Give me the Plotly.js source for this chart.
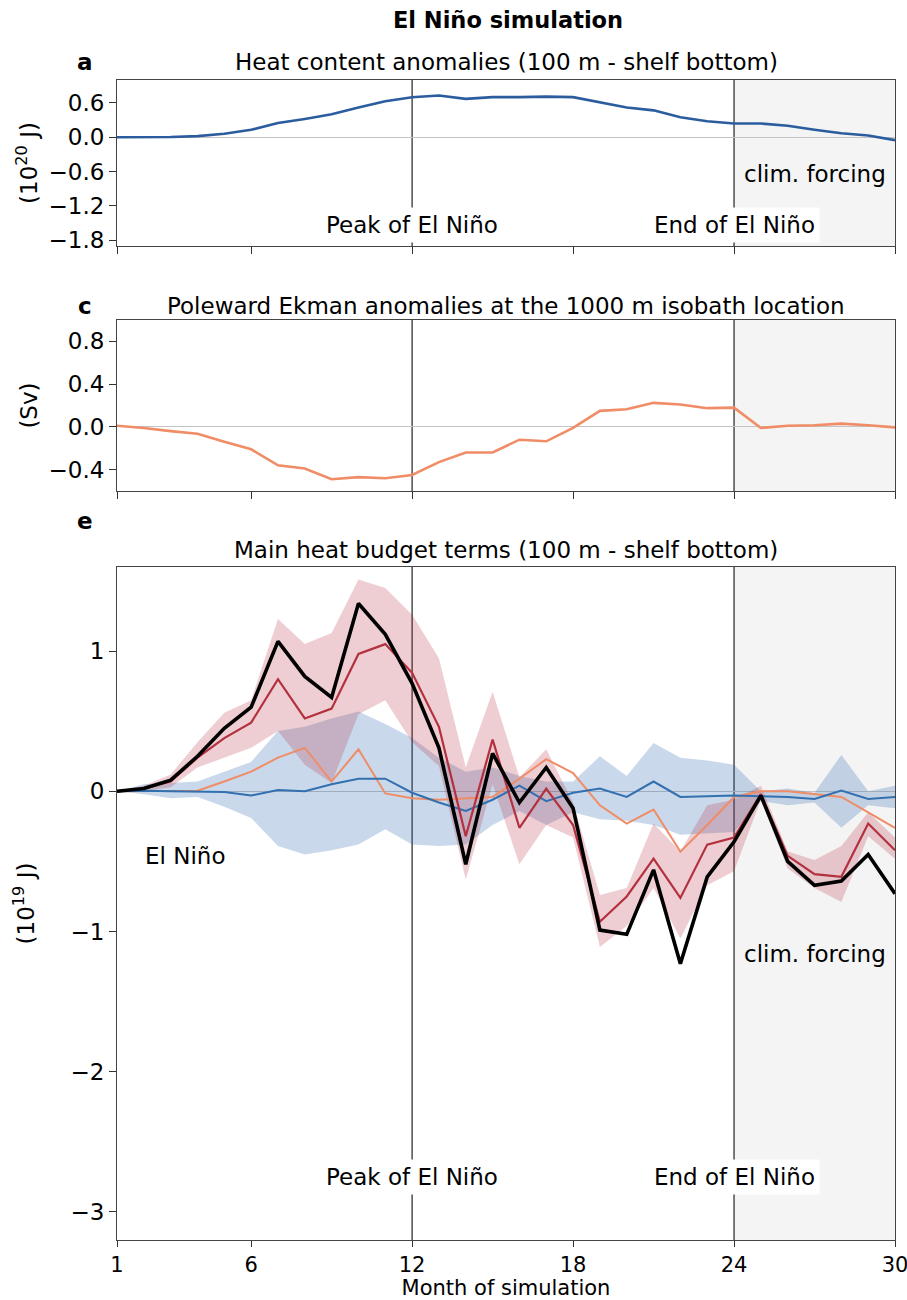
<!DOCTYPE html>
<html>
<head>
<meta charset="utf-8">
<script src="https://cdn.plot.ly/plotly-3.0.1.min.js"></script>
<style>html,body{margin:0;padding:0;background:#fff;}#chart{width:907px;height:1300px;}</style>
</head>
<body>
<div id="chart"></div>
<script>
// ---------- data ----------
const months = [1,2,3,4,5,6,7,8,9,10,11,12,13,14,15,16,17,18,19,20,21,22,23,24,25,26,27,28,29,30];
const monthTicks = [1,6,12,18,24,30];

// panel a: heat content anomalies (10^20 J)
const heatContent = [0.0,0.0,0.005,0.02,0.06,0.13,0.25,0.32,0.40,0.52,0.63,0.70,0.73,0.67,0.70,0.70,0.71,0.70,0.61,0.52,0.47,0.35,0.28,0.24,0.24,0.20,0.13,0.07,0.03,-0.05];

// panel c: poleward Ekman anomalies (Sv)
const ekman = [0.01,-0.01,-0.04,-0.065,-0.14,-0.21,-0.36,-0.39,-0.49,-0.47,-0.48,-0.45,-0.33,-0.24,-0.24,-0.12,-0.135,-0.01,0.15,0.165,0.225,0.21,0.175,0.18,-0.01,0.01,0.015,0.03,0.015,-0.005];

// panel e: main heat budget terms (10^19 J)
const totalTerm = [0,0.02,0.08,0.25,0.45,0.60,1.07,0.82,0.67,1.34,1.12,0.77,0.31,-0.52,0.27,-0.08,0.17,-0.12,-0.99,-1.02,-0.56,-1.23,-0.61,-0.36,-0.03,-0.50,-0.67,-0.64,-0.45,-0.73];
const redTerm = [0,0.02,0.07,0.24,0.38,0.49,0.80,0.52,0.59,0.98,1.05,0.845,0.46,-0.32,0.37,-0.26,0.02,-0.24,-0.93,-0.75,-0.48,-0.76,-0.38,-0.33,-0.02,-0.46,-0.59,-0.61,-0.23,-0.42];
const redUpper = [0,0.04,0.12,0.35,0.56,0.65,1.23,1.05,1.13,1.51,1.45,1.26,0.95,0.17,0.71,0.10,0.30,-0.08,-0.74,-0.69,-0.23,-0.43,-0.10,-0.06,0.04,-0.43,-0.49,-0.39,-0.15,-0.33];
const redLower = [0,0.0,0.03,0.17,0.24,0.31,0.43,0.19,0.06,0.55,0.65,0.35,0.18,-0.63,0.05,-0.52,-0.24,-0.33,-1.11,-0.96,-0.69,-1.05,-0.67,-0.57,-0.06,-0.55,-0.69,-0.79,-0.32,-0.48];
const orangeTerm = [0,0,0,0.005,0.07,0.14,0.24,0.31,0.07,0.30,-0.015,-0.05,-0.06,-0.05,-0.04,0.09,0.23,0.13,-0.10,-0.23,-0.13,-0.43,-0.24,-0.04,0,0,-0.02,-0.04,-0.15,-0.26];
const blueTerm = [0,0.005,0,0,-0.005,-0.03,0.01,0,0.05,0.09,0.09,-0.01,-0.08,-0.14,-0.06,0.04,-0.07,-0.01,0.02,-0.04,0.07,-0.04,-0.035,-0.03,-0.035,-0.04,-0.055,0.005,-0.055,-0.04];
const blueUpper = [0,0.05,0.06,0.07,0.14,0.21,0.43,0.46,0.52,0.57,0.48,0.38,0.24,0.14,0.17,0.11,0.07,0.07,0.25,0.11,0.345,0.24,0.22,0.19,0.0,0.02,-0.01,0.26,0.0,0.04];
const blueLower = [0,-0.02,-0.05,-0.04,-0.11,-0.19,-0.39,-0.45,-0.42,-0.38,-0.27,-0.38,-0.39,-0.38,-0.24,-0.14,-0.24,-0.15,-0.20,-0.21,-0.24,-0.31,-0.30,-0.29,-0.07,-0.10,-0.08,-0.26,-0.10,-0.12];

// tick labels
const aTickVals = [0.6,0.0,-0.6,-1.2,-1.8];
const aTickText = ["0.6","0.0","\u22120.6","\u22121.2","\u22121.8"];
const cTickVals = [0.8,0.4,0.0,-0.4];
const cTickText = ["0.8","0.4","0.0","\u22120.4"];
const eTickVals = [1,0,-1,-2,-3];
const eTickText = ["1","0","\u22121","\u22122","\u22123"];

// ---------- chart ----------
const FONT = "DejaVu Sans";
const FS = 23;
const rev = a => a.slice().reverse();
const band = (hi, lo) => ({x: months.concat(rev(months)), y: hi.concat(rev(lo))});

const blueBand = band(blueUpper, blueLower);
const redBand = band(redUpper, redLower);

const traces = [
  {x: months, y: heatContent, xaxis: 'x', yaxis: 'y', mode: 'lines', line: {color: '#2b5d9e', width: 2.6}, hoverinfo: 'skip'},
  {x: months, y: ekman, xaxis: 'x2', yaxis: 'y2', mode: 'lines', line: {color: '#f08c66', width: 2.6}, hoverinfo: 'skip'},
  {x: blueBand.x, y: blueBand.y, xaxis: 'x3', yaxis: 'y3', mode: 'lines', fill: 'toself', fillcolor: 'rgba(40,105,175,0.25)', line: {width: 0}, hoverinfo: 'skip'},
  {x: redBand.x, y: redBand.y, xaxis: 'x3', yaxis: 'y3', mode: 'lines', fill: 'toself', fillcolor: 'rgba(178,34,52,0.22)', line: {width: 0}, hoverinfo: 'skip'},
  {x: months, y: orangeTerm, xaxis: 'x3', yaxis: 'y3', mode: 'lines', line: {color: '#f08c66', width: 2}, hoverinfo: 'skip'},
  {x: months, y: blueTerm, xaxis: 'x3', yaxis: 'y3', mode: 'lines', line: {color: '#3370b0', width: 2}, hoverinfo: 'skip'},
  {x: months, y: redTerm, xaxis: 'x3', yaxis: 'y3', mode: 'lines', line: {color: '#b3303e', width: 2.2}, hoverinfo: 'skip'},
  {x: months, y: totalTerm, xaxis: 'x3', yaxis: 'y3', mode: 'lines', line: {color: '#000000', width: 3.6}, hoverinfo: 'skip'}
];

const W = 907, H = 1300, ML = 117, MR = 12, MT = 80, MB = 60;
const plotH = H - MT - MB;
const py = p => 1 - (p - MT) / plotH;   // pixel y -> paper y
const px = p => (p - ML) / (W - ML - MR); // pixel x -> paper x

const xBase = {
  range: [1, 30], tickvals: monthTicks, ticks: 'outside', ticklen: 7, tickwidth: 1, tickcolor: '#333',
  showline: true, mirror: true, linecolor: '#444', linewidth: 1, showgrid: false, zeroline: false,
  ticklabeloverflow: 'allow',
  tickfont: {family: FONT, size: FS, color: '#000'}
};
const yBase = {
  ticks: 'outside', ticklen: 7, tickwidth: 1, tickcolor: '#333',
  showline: true, mirror: true, linecolor: '#444', linewidth: 1, showgrid: false,
  zeroline: true, zerolinecolor: '#c4c4c4', zerolinewidth: 1.2,
  tickfont: {family: FONT, size: FS, color: '#000'}
};

const layout = {
  width: W, height: H,
  margin: {l: ML, r: MR, t: MT, b: MB},
  paper_bgcolor: '#fff', plot_bgcolor: 'rgba(0,0,0,0)',
  showlegend: false,
  font: {family: FONT, size: FS, color: '#000'},
  title: {text: '<b>El Niño simulation</b>', font: {family: FONT, size: 22.5, color: '#000'},
          xref: 'container', yref: 'container', x: 508 / W, y: 1 - 20 / H, xanchor: 'center', yanchor: 'middle'},
  xaxis: Object.assign({}, xBase, {domain: [0, 1], anchor: 'y', showticklabels: false}),
  xaxis2: Object.assign({}, xBase, {domain: [0, 1], anchor: 'y2', showticklabels: false}),
  xaxis3: Object.assign({}, xBase, {domain: [0, 1], anchor: 'y3', showticklabels: true, ticklen: 6,
          tickfont: {family: FONT, size: 21, color: '#000'},
          title: {text: 'Month of simulation', font: {family: FONT, size: 21}, standoff: 3}}),
  yaxis: Object.assign({}, yBase, {domain: [py(246), 1], range: [-1.9, 1.0], tickvals: aTickVals, ticktext: aTickText,
          title: {text: '(10<sup>20</sup> J)', font: {family: FONT, size: FS}, standoff: 4}}),
  yaxis2: Object.assign({}, yBase, {domain: [py(491), py(320)], range: [-0.6, 1.0], tickvals: cTickVals, ticktext: cTickText,
          title: {text: '(Sv)', font: {family: FONT, size: FS}, standoff: 4}}),
  yaxis3: Object.assign({}, yBase, {domain: [0, py(567)], range: [-3.2, 1.6], tickvals: eTickVals, ticktext: eTickText,
          title: {text: '(10<sup>19</sup> J)', font: {family: FONT, size: FS}, standoff: 29}}),
  shapes: [],
  annotations: []
};

const panels = [['x', 'y'], ['x2', 'y2'], ['x3', 'y3']];
panels.forEach(([xa, ya]) => {
  layout.shapes.push({type: 'rect', xref: xa, yref: ya + ' domain', x0: 24, x1: 30, y0: 0, y1: 1,
    fillcolor: '#f4f4f4', line: {width: 0}, layer: 'below'});
  [12, 24].forEach(v => layout.shapes.push({type: 'line', xref: xa, yref: ya + ' domain', x0: v, x1: v, y0: 0, y1: 1,
    line: {color: '#222', width: 1.2}, layer: 'below'}));
});

const txt = (text, x, y, xref, yref, extra) => Object.assign({
  text: text, x: x, y: y, xref: xref, yref: yref, showarrow: false,
  font: {family: FONT, size: FS, color: '#000'}, xanchor: 'center', yanchor: 'middle'}, extra || {});

// panel labels & subtitles
layout.annotations.push(txt('<b>a</b>', px(85), py(62), 'paper', 'paper'));
layout.annotations.push(txt('Heat content anomalies (100 m - shelf bottom)', px(506), py(62), 'paper', 'paper'));
layout.annotations.push(txt('<b>c</b>', px(85), py(306), 'paper', 'paper'));
layout.annotations.push(txt('Poleward Ekman anomalies at the 1000 m isobath location', px(506), py(306), 'paper', 'paper'));
layout.annotations.push(txt('<b>e</b>', px(85), py(521), 'paper', 'paper'));
layout.annotations.push(txt('Main heat budget terms (100 m - shelf bottom)', px(506), py(550), 'paper', 'paper'));

// in-plot labels
const boxed = {bgcolor: '#ffffff', borderpad: 4};
layout.annotations.push(txt('Peak of El Niño', 12, -1.54, 'x', 'y', boxed));
layout.annotations.push(txt('End of El Niño', 24, -1.54, 'x', 'y', boxed));
layout.annotations.push(txt('clim. forcing', 27, -0.65, 'x', 'y'));
layout.annotations.push(txt('El Niño', 3.55, -0.46, 'x3', 'y3'));
layout.annotations.push(txt('clim. forcing', 27, -1.16, 'x3', 'y3'));
layout.annotations.push(txt('Peak of El Niño', 12, -2.75, 'x3', 'y3', boxed));
layout.annotations.push(txt('End of El Niño', 24, -2.75, 'x3', 'y3', boxed));

Plotly.newPlot('chart', traces, layout, {staticPlot: true, displayModeBar: false});
</script>
</body>
</html>
